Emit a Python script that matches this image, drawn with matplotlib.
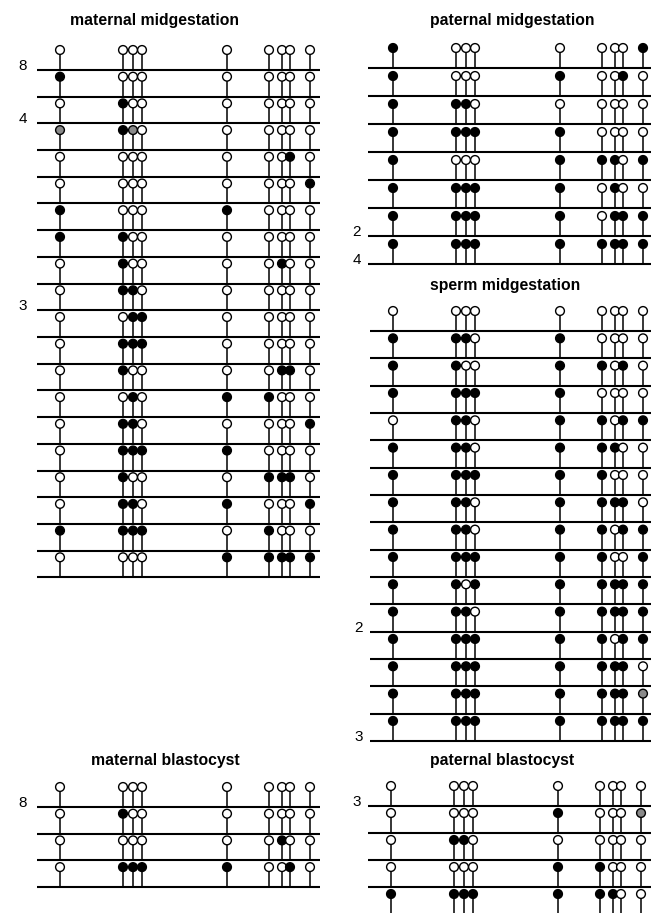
import numpy as np
import matplotlib
matplotlib.use('Agg')
import matplotlib.pyplot as plt

plt.rcParams['font.family'] = ['Liberation Sans', 'DejaVu Sans']

# relative positions of the 9 CpG sites
sites = [0, 63, 73, 82, 167, 209, 222, 230, 250]

# one string per clone: 0 = unmethylated, 1 = methylated, 2 = partial (grey)
maternal_mid = ["0 000 0 000 0", "1 000 0 000 0", "0 100 0 000 0", "2 120 0 000 0",
                "0 000 0 001 0", "0 000 0 000 1", "1 000 1 000 0", "1 100 0 000 0",
                "0 100 0 010 0", "0 110 0 000 0", "0 011 0 000 0", "0 111 0 000 0",
                "0 100 0 011 0", "0 010 1 100 0", "0 110 0 000 1", "0 111 1 000 0",
                "0 100 0 111 0", "0 110 1 000 1", "1 111 0 100 0", "0 000 1 111 1"]
maternal_mid_counts = {0: "8", 2: "4", 9: "3"}

paternal_mid = ["1 000 0 000 1", "1 000 1 001 0", "1 110 0 000 0", "1 111 1 000 0",
                "1 000 1 110 1", "1 111 1 010 0", "1 111 1 011 1", "1 111 1 111 1"]
paternal_mid_counts = {6: "2", 7: "4"}

sperm_mid = ["0 000 0 000 0", "1 110 1 000 0", "1 100 1 101 0", "1 111 1 000 0",
             "0 110 1 101 1", "1 110 1 110 0", "1 111 1 100 0", "1 110 1 111 0",
             "1 110 1 101 1", "1 111 1 100 1", "1 101 1 111 1", "1 110 1 111 1",
             "1 111 1 101 1", "1 111 1 111 0", "1 111 1 111 2", "1 111 1 111 1"]
sperm_mid_counts = {11: "2", 15: "3"}

maternal_blast = ["0 000 0 000 0", "0 100 0 000 0", "0 000 0 010 0", "0 111 1 001 0"]
maternal_blast_counts = {0: "8"}

paternal_blast = ["0 000 0 000 0", "0 000 1 000 2", "0 110 0 000 0", "0 000 1 100 0",
                  "1 111 1 110 0"]
paternal_blast_counts = {0: "3"}

colors = {'0': 'white', '1': 'black', '2': '#8a8a8a'}

W, H = 651, 913
fig = plt.figure(figsize=(W / 100, H / 100), dpi=100)


def panel(x0, y0, step, rows, counts, pad, gap, last_line=True):
    # x0: pixel of first site, y0: pixel of first baseline, step: row height
    n = len(rows)
    top = y0 - step
    ax = fig.add_axes([(x0 - pad) / W, 1 - (top + n * step) / H, 283 / W, n * step / H])
    ax.set_xlim(-pad, 283 - pad)
    ax.set_ylim(n, 0)
    ax.axis('off')

    cy = 1 - 20 / step
    nlines = n if last_line else n - 1
    ax.hlines(np.arange(1, nlines + 1), -pad, 283 - pad, color='black', lw=1.5, clip_on=False)
    for i, r in enumerate(rows):
        r = r.replace(' ', '')
        ax.vlines(sites, i + cy, i + 1, color='black', lw=1.1, zorder=2)
        ax.scatter(sites, [i + cy] * len(sites), s=40, c=[colors[c] for c in r],
                   edgecolors='black', linewidths=1.0, zorder=3, clip_on=False)

    for i, lab in counts.items():
        ax.text(-pad - gap, i + 1 - 4 / step, lab, ha='right', va='center', fontsize=11)
    return ax


panel(60, 70, 26.7, maternal_mid, maternal_mid_counts, 23, 10)
panel(393, 68, 28, paternal_mid, paternal_mid_counts, 25, 7)
panel(393, 331, 27.33, sperm_mid, sperm_mid_counts, 23, 7)
panel(60, 807, 26.7, maternal_blast, maternal_blast_counts, 23, 10)
# the bottom of this panel is cut off in the original
panel(391, 806, 27, paternal_blast, paternal_blast_counts, 23, 7, last_line=False)

titles = ["maternal midgestation", "paternal midgestation", "sperm midgestation",
          "maternal blastocyst", "paternal blastocyst"]
title_xy = [(154, 25), (512, 25), (505, 290), (165, 765), (502, 765)]
for t, (tx, ty) in zip(titles, title_xy):
    fig.text(tx / W, 1 - ty / H, t, ha='center', va='baseline', fontsize=11.3, fontweight='bold')

fig.savefig('out.png', dpi=100, facecolor='white')
